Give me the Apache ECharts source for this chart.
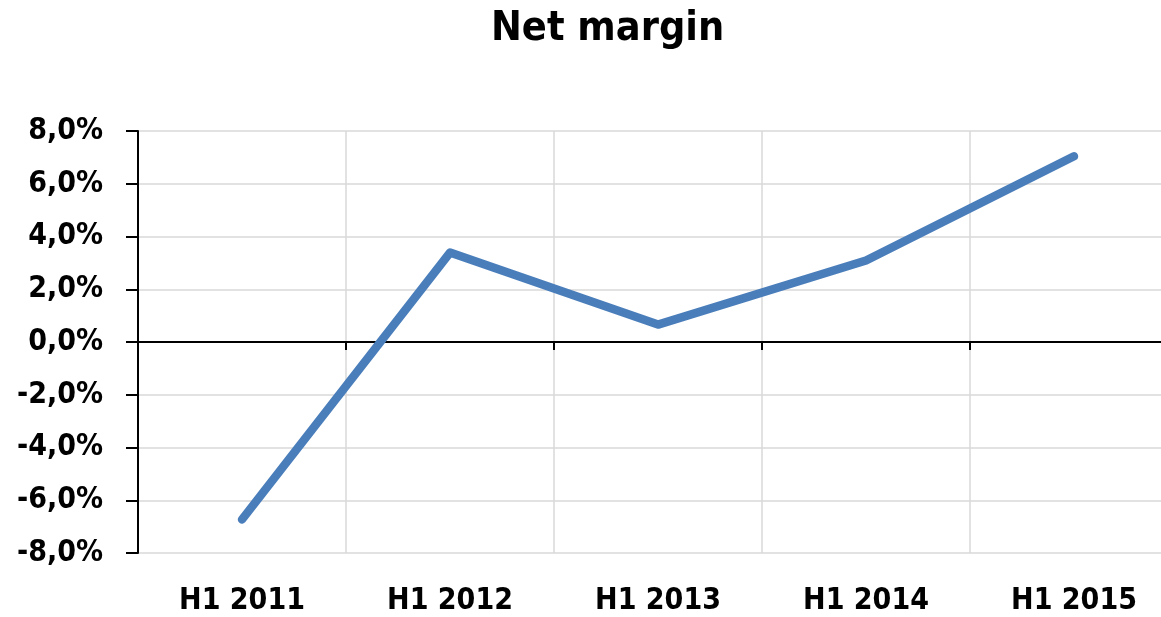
<!DOCTYPE html>
<html>
<head>
<meta charset="utf-8">
<script src="https://cdn.jsdelivr.net/npm/echarts@6/dist/echarts.min.js"></script>
<style>html,body{margin:0;padding:0;background:#fff}#c{width:1161px;height:617px}</style>
</head>
<body>
<div id="c"></div>
<script>
const categories = ['H1 2011', 'H1 2012', 'H1 2013', 'H1 2014', 'H1 2015'];
const netMargin = [-6.73, 3.39, 0.66, 3.09, 7.04];
const yMin = -8, yMax = 8, yStep = 2;
const titleText = 'Net margin';

const FONT = '"DejaVu Sans Condensed", "DejaVu Sans", sans-serif';
const chart = echarts.init(document.getElementById('c'), null, {renderer: 'canvas'});
const fmt = v => v.toFixed(1).replace('.', ',') + '%';
chart.setOption({
  animation: false,
  backgroundColor: '#ffffff',
  title: {
    text: titleText, left: 486, top: 4,
    textStyle: {fontFamily: FONT, fontWeight: 'bold', fontSize: 41, color: '#000'}
  },
  grid: {left: 138, top: 131, width: 1040, height: 422, containLabel: false, outerBoundsMode: 'none'},
  xAxis: [
    {
      type: 'category', data: categories, boundaryGap: true, position: 'bottom',
      axisLine: {onZero: true, lineStyle: {color: '#000', width: 2}},
      axisTick: {show: true, length: 8, interval: 0, lineStyle: {color: '#000', width: 2}},
      axisLabel: {show: false},
      splitLine: {show: true, interval: 0, lineStyle: {color: '#d9d9d9', width: 1.5}}
    },
    {
      type: 'category', data: categories, boundaryGap: true, position: 'bottom',
      axisLine: {show: false, onZero: false},
      axisTick: {show: false},
      axisLabel: {show: true, margin: 33, interval: 0, fontFamily: FONT, fontWeight: 'bold', fontSize: 30, color: '#000'},
      splitLine: {show: false}
    }
  ],
  yAxis: {
    type: 'value', min: yMin, max: yMax, interval: yStep,
    axisLine: {show: true, lineStyle: {color: '#000', width: 2}},
    axisTick: {show: true, length: 12, lineStyle: {color: '#000', width: 2}},
    axisLabel: {margin: 35, formatter: fmt, fontFamily: FONT, fontWeight: 'bold', fontSize: 30, color: '#000'},
    splitLine: {show: true, lineStyle: {color: '#d9d9d9', width: 1.5}}
  },
  series: [{
    type: 'line', data: netMargin, xAxisIndex: 0, symbol: 'none', smooth: false,
    lineStyle: {color: '#4a7ebb', width: 8.5, cap: 'round', join: 'round'}
  }]
});
</script>
</body>
</html>
